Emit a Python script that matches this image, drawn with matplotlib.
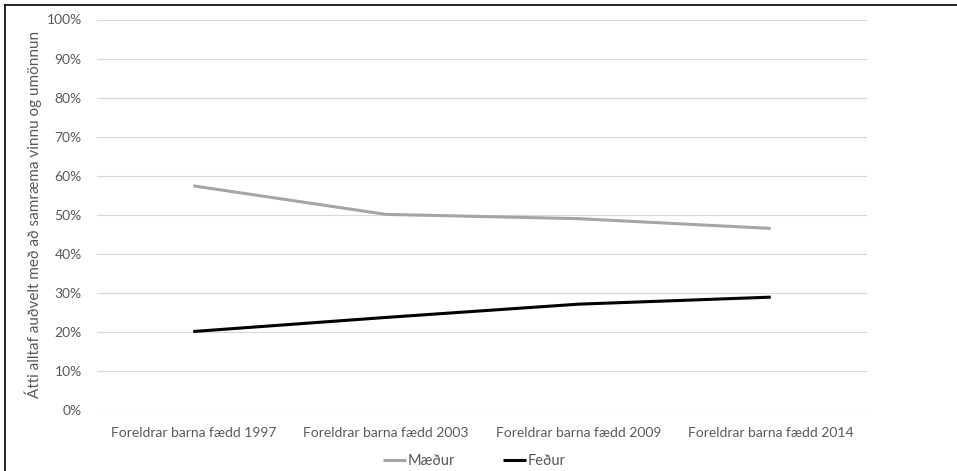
import matplotlib
matplotlib.use("Agg")
import matplotlib.pyplot as plt
from matplotlib.lines import Line2D
from matplotlib.ticker import PercentFormatter

categories = ["Foreldrar barna fædd 1997", "Foreldrar barna fædd 2003",
              "Foreldrar barna fædd 2009", "Foreldrar barna fædd 2014"]
maedur = [57.4, 50.1, 49.0, 46.5]
fedur = [20.1, 23.7, 27.1, 28.9]
ylabel = "Átti alltaf auðvelt með að samræma vinnu og umönnun"

plt.rcParams['font.family'] = ['Lato', 'DejaVu Sans']
text_color = '#595959'

fig = plt.figure(figsize=(9.57, 4.71), dpi=100)
ax = fig.add_axes([97 / 957, 1 - 410 / 471, 770 / 957, 390.5 / 471])

x = range(len(categories))
ax.plot(x, maedur, color='#a5a5a5', lw=2.2, label='Mæður', solid_capstyle='butt')
ax.plot(x, fedur, color='black', lw=2.2, label='Feður', solid_capstyle='butt')

ax.set_xlim(-0.5, len(categories) - 0.5)
ax.set_ylim(0, 100)
ax.set_yticks(range(0, 101, 10))
ax.yaxis.set_major_formatter(PercentFormatter(decimals=0))
ax.set_xticks(list(x))
ax.set_xticklabels(categories)
ax.grid(axis='y', color='#d9d9d9', lw=0.9)
ax.set_axisbelow(True)
for s in ax.spines.values():
    s.set_visible(False)
ax.tick_params(length=0, labelsize=10, colors=text_color)
ax.tick_params(axis='y', pad=11)
ax.tick_params(axis='x', pad=12)
ax.set_ylabel(ylabel, fontsize=11, color=text_color, labelpad=3)

leg = ax.legend(loc='center', bbox_to_anchor=(0.49, -0.13), ncol=2, frameon=False,
                fontsize=10.5, handlelength=1.6, handletextpad=0.1, columnspacing=3.3)
for t in leg.get_texts():
    t.set_color(text_color)

# outer frame (top and left edges)
fig.add_artist(Line2D([5 / 957, 1], [1 - 5 / 471, 1 - 5 / 471], color='black', lw=1.2,
                      transform=fig.transFigure))
fig.add_artist(Line2D([5 / 957, 5 / 957], [0, 1 - 5 / 471], color='black', lw=1.2,
                      transform=fig.transFigure))

fig.savefig("out.png", dpi=100)
